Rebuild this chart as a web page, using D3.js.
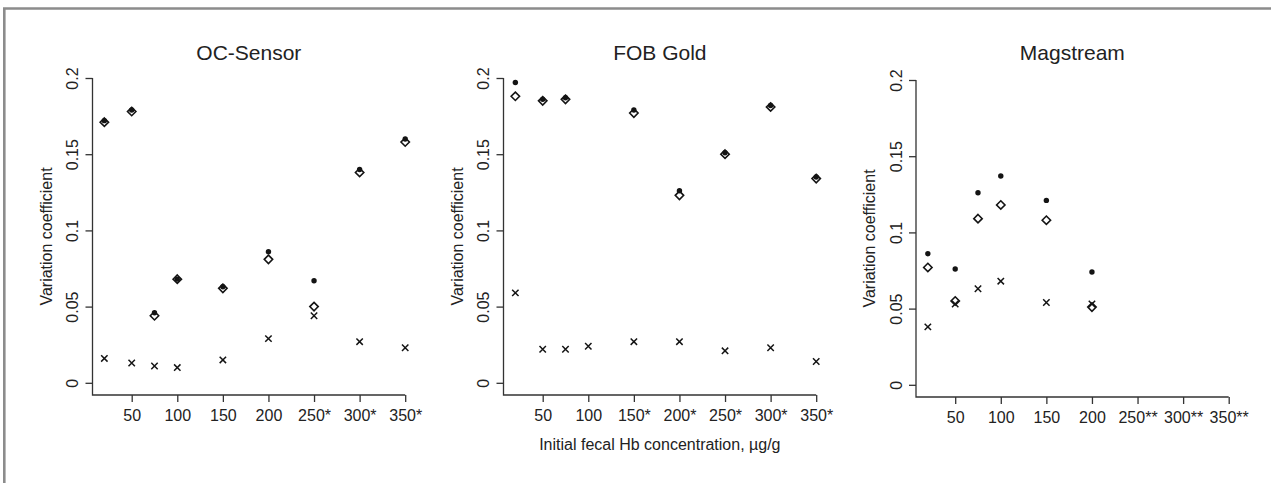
<!DOCTYPE html>
<html>
<head>
<meta charset="utf-8">
<script src="https://cdn.jsdelivr.net/npm/d3@7"></script>
<style>
  body { margin: 0; background: #fff; }
  svg text { font-family: "Liberation Sans", Arial, sans-serif; fill: #222; }
</style>
</head>
<body>
<svg id="chart"></svg>
<script>
// concentration levels (µg/g) where the samples were measured
var levels = [20, 50, 75, 100, 150, 200, 250, 300, 350]
var tickValues = [50, 100, 150, 200, 250, 300, 350]
var yTicks = [0, 0.05, 0.1, 0.15, 0.2]
var yTickLabels = ['0', '0.05', '0.1', '0.15', '0.2']

var titles = ['OC-Sensor', 'FOB Gold', 'Magstream']
var xTickLabels = [
  ['50', '100', '150', '200', '250*', '300*', '350*'],
  ['50', '100', '150*', '200*', '250*', '300*', '350*'],
  ['50', '100', '150', '200', '250**', '300**', '350**']
]

// dots: filled circles, diamonds: open diamonds, crosses: x marks (null = not measured)
var ocDots     = [0.172, 0.179, 0.046, 0.068, 0.063, 0.086, 0.067, 0.140, 0.160]
var ocDiamonds = [0.171, 0.178, 0.044, 0.068, 0.062, 0.081, 0.050, 0.138, 0.158]
var ocCrosses  = [0.016, 0.013, 0.011, 0.010, 0.015, 0.029, 0.044, 0.027, 0.023]

var fobDots     = [0.197, 0.186, 0.187, null, 0.179, 0.126, 0.151, 0.182, 0.135]
var fobDiamonds = [0.188, 0.185, 0.186, null, 0.177, 0.123, 0.150, 0.181, 0.134]
var fobCrosses  = [0.059, 0.022, 0.022, 0.024, 0.027, 0.027, 0.021, 0.023, 0.014]

var magDots     = [0.086, 0.076, 0.126, 0.137, 0.121, 0.074, null, null, null]
var magDiamonds = [0.077, 0.055, 0.109, 0.118, 0.108, 0.051, null, null, null]
var magCrosses  = [0.038, 0.053, 0.063, 0.068, 0.054, 0.053, null, null, null]

var panels = [
  {dots: ocDots, diamonds: ocDiamonds, crosses: ocCrosses},
  {dots: fobDots, diamonds: fobDiamonds, crosses: fobCrosses},
  {dots: magDots, diamonds: magDiamonds, crosses: magCrosses}
]

var width = 1271
var height = 483
var svg = d3.select('#chart').attr('width', width).attr('height', height)

// outer frame (only top and left edges show)
svg.append('path')
  .attr('d', 'M4.3,' + height + ' V8.5 H' + width)
  .attr('fill', 'none')
  .attr('stroke', '#8c8c8c')
  .attr('stroke-width', 2.6)

var panelLeft = [92.5, 503.5, 916]
var panelTop = [78, 78, 80]
var panelBottom = [395, 395, 397]
var panelWidth = 312.7
var ink = '#141414'
var axisInk = '#333'

panels.forEach(function (p, k) {
  var g = svg.append('g').attr('transform', 'translate(' + panelLeft[k] + ',0)')
  var x = d3.scaleLinear().domain([7, 350]).range([0, panelWidth])
  var y = d3.scaleLinear().domain([-0.008, 0.2]).range([panelBottom[k], panelTop[k]])

  // L-shaped box
  g.append('path')
    .attr('d', 'M0,' + y(0.2) + ' V' + y(-0.008) + ' H' + x(350))
    .attr('fill', 'none')
    .attr('stroke', axisInk)
    .attr('stroke-width', 1.3)

  var yAxis = d3.axisLeft(y).tickValues(yTicks).tickSize(7).tickSizeOuter(0)
    .tickFormat(function (d, i) { return yTickLabels[i] })
  var ya = g.append('g').call(yAxis)
  ya.select('.domain').remove()
  ya.selectAll('line').attr('stroke', axisInk).attr('stroke-width', 1.3)
  ya.selectAll('text')
    .attr('x', null).attr('dy', null)
    .attr('transform', 'translate(-14.5,0) rotate(-90)')
    .attr('text-anchor', 'middle')
    .attr('font-size', 16)
    .style('font-family', '"Liberation Sans", Arial, sans-serif')
    .attr('fill', '#222')

  var xAxis = d3.axisBottom(x).tickValues(tickValues).tickSize(7).tickPadding(8)
    .tickFormat(function (d, i) { return xTickLabels[k][i] })
  var xa = g.append('g').attr('transform', 'translate(0,' + y(-0.008) + ')').call(xAxis)
  xa.select('.domain').remove()
  xa.selectAll('line').attr('stroke', axisInk).attr('stroke-width', 1.3)
  xa.selectAll('text')
    .attr('font-size', 16)
    .style('font-family', '"Liberation Sans", Arial, sans-serif')
    .attr('fill', '#222')

  // title
  g.append('text')
    .attr('x', panelWidth / 2)
    .attr('y', 60)
    .attr('text-anchor', 'middle')
    .attr('font-size', 21)
    .text(titles[k])

  // y label
  g.append('text')
    .attr('transform', 'translate(-41,' + ((panelTop[k] + panelBottom[k]) / 2) + ') rotate(-90)')
    .attr('text-anchor', 'middle')
    .attr('font-size', 16)
    .text('Variation coefficient')

  var pts = function (vals) {
    return levels.map(function (lv, i) { return {x: lv, v: vals[i]} })
      .filter(function (d) { return d.v !== null })
  }

  // filled circles
  g.selectAll('circle.dot').data(pts(p.dots)).enter().append('circle')
    .attr('class', 'dot')
    .attr('cx', function (d) { return x(d.x) })
    .attr('cy', function (d) { return y(d.v) })
    .attr('r', 2.7)
    .attr('fill', ink)

  // open diamonds
  var dr = 4.2
  g.selectAll('path.diamond').data(pts(p.diamonds)).enter().append('path')
    .attr('class', 'diamond')
    .attr('d', function (d) {
      var cx = x(d.x), cy = y(d.v)
      return 'M' + cx + ',' + (cy - dr) + ' L' + (cx + dr) + ',' + cy +
        ' L' + cx + ',' + (cy + dr) + ' L' + (cx - dr) + ',' + cy + 'Z'
    })
    .attr('fill', 'none')
    .attr('stroke', ink)
    .attr('stroke-width', 1.6)

  // crosses
  var cr = 3.2
  g.selectAll('path.cross').data(pts(p.crosses)).enter().append('path')
    .attr('class', 'cross')
    .attr('d', function (d) {
      var cx = x(d.x), cy = y(d.v)
      return 'M' + (cx - cr) + ',' + (cy - cr) + ' L' + (cx + cr) + ',' + (cy + cr) +
        ' M' + (cx - cr) + ',' + (cy + cr) + ' L' + (cx + cr) + ',' + (cy - cr)
    })
    .attr('stroke', ink)
    .attr('stroke-width', 1.5)
})

// shared x label under the middle panel
svg.append('text')
  .attr('x', panelLeft[1] + panelWidth / 2)
  .attr('y', 450)
  .attr('text-anchor', 'middle')
  .attr('font-size', 16)
  .text('Initial fecal Hb concentration, µg/g')
</script>
</body>
</html>
